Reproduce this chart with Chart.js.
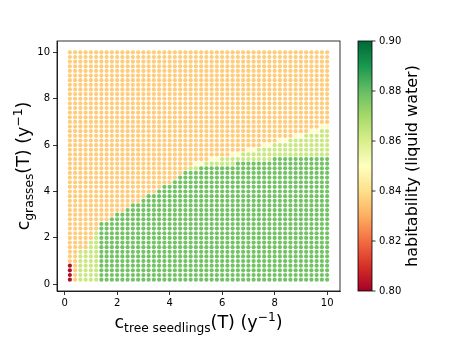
<!DOCTYPE html>
<html><head><meta charset="utf-8">
<script src="https://cdn.jsdelivr.net/npm/chart.js@4.4.1/dist/chart.umd.min.js"></script>
<style>html,body{margin:0;padding:0;background:#fff}#c{display:block}</style>
</head><body><canvas id="c" width="458" height="343"></canvas>
<script>
// grid of simulated parameter values
const xValues = [0.2,0.4,0.6,0.8,1.0,1.2,1.4,1.6,1.8,2.0,2.2,2.4,2.6,2.8,3.0,3.2,3.4,3.6,3.8,4.0,4.2,4.4,4.6,4.8,5.0,5.2,5.4,5.6,5.8,6.0,6.2,6.4,6.6,6.8,7.0,7.2,7.4,7.6,7.8,8.0,8.2,8.4,8.6,8.8,9.0,9.2,9.4,9.6,9.8,10.0];
const yValues = [0.2,0.4,0.6,0.8,1.0,1.2,1.4,1.6,1.8,2.0,2.2,2.4,2.6,2.8,3.0,3.2,3.4,3.6,3.8,4.0,4.2,4.4,4.6,4.8,5.0,5.2,5.4,5.6,5.8,6.0,6.2,6.4,6.6,6.8,7.0,7.2,7.4,7.6,7.8,8.0,8.2,8.4,8.6,8.8,9.0,9.2,9.4,9.6,9.8,10.0];
const xTicks = [0,2,4,6,8,10];
const yTicks = [0,2,4,6,8,10];
const cbarTicks = [0.80,0.82,0.84,0.86,0.88,0.90];
// habitability levels seen in the picture (by dot colour)
const levelRed = 0.803, levelOrange = 0.836, levelPale = 0.849, levelLight = 0.863, levelGreen = 0.878;
// per x column: highest row (1-based from the bottom) of each region
const redTop   = [4,0,0,0,0,0,0,0,0,0,0,0,0,0,0,0,0,0,0,0,0,0,0,0,0,0,0,0,0,0,0,0,0,0,0,0,0,0,0,0,0,0,0,0,0,0,0,0,0,0];
const greenTop = [0,0,0,0,0,0,13,13,14,15,15,16,17,17,18,19,19,20,21,21,22,23,24,24,24,25,25,25,25,25,25,25,26,26,26,26,26,26,26,27,27,27,27,27,27,27,27,27,27,27];
const lightTop = [0,0,7,7,9,11,13,13,14,15,15,16,17,17,18,19,19,20,21,21,22,23,24,25,25,25,26,26,26,27,27,27,27,28,28,28,29,29,29,30,30,30,31,31,31,32,32,32,33,33];
const paleTop  = [0,0,7,7,9,11,13,13,14,15,15,16,17,17,18,19,19,20,21,21,22,23,24,25,26,26,26,27,27,27,27,28,28,28,29,29,29,30,30,30,31,31,31,32,32,32,33,33,34,34];

const RdYlGn = [[165,0,38],[215,48,39],[244,109,67],[253,174,97],[254,224,139],[255,255,191],[217,239,139],[166,217,106],[102,189,99],[26,152,80],[0,104,55]];
const vmin = 0.80, vmax = 0.90;
function cmap(v){
  let t = Math.max(0, Math.min(1, (v - vmin) / (vmax - vmin))) * 10;
  const i = Math.min(9, Math.floor(t)), f = t - i;
  const a = RdYlGn[i], b = RdYlGn[i+1];
  return 'rgb(' + a.map((c,k)=>Math.round(c + (b[k]-c)*f)).join(',') + ')';
}

const points = [], colors = [];
xValues.forEach((x, c) => {
  yValues.forEach((y, r0) => {
    const r = r0 + 1;
    let v;
    if (r <= redTop[c]) v = levelRed;
    else if (r <= greenTop[c]) v = levelGreen;
    else if (r <= lightTop[c]) v = levelLight;
    else if (r <= paleTop[c]) v = levelPale;
    else v = levelOrange;
    points.push({x, y, v});
    colors.push(cmap(v));
  });
});

const FONT = "'DejaVu Sans', sans-serif";

function drawMathLabel(ctx, parts, cx, baseY, rotate){
  const F = 17.5, S = 12.25;
  let total = 0;
  const widths = parts.map(p => { ctx.font = (p[1]==='n'?F:S) + 'px ' + FONT; const w = ctx.measureText(p[0]).width; total += w; return w; });
  ctx.save();
  if (rotate){ ctx.translate(baseY, cx); ctx.rotate(-Math.PI/2); }
  else { ctx.translate(cx, baseY); }
  ctx.fillStyle = '#000';
  ctx.textBaseline = 'alphabetic';
  ctx.textAlign = 'left';
  let x = -total/2;
  parts.forEach((p,i) => {
    ctx.font = (p[1]==='n'?F:S) + 'px ' + FONT;
    const dy = p[1]==='sub' ? 3.8 : (p[1]==='sup' ? -7 : 0);
    ctx.fillText(p[0], x, dy);
    x += widths[i];
  });
  ctx.restore();
}

const decor = {
  id: 'decor',
  afterDraw(chart){
    const ctx = chart.ctx, a = chart.chartArea;
    ctx.save();
    ctx.strokeStyle = '#000'; ctx.lineWidth = 0.8;
    ctx.strokeRect(a.left, a.top, a.right - a.left, a.bottom - a.top);
    const cb = chart.scales.cbar;
    const x0 = 358, x1 = 372;
    const top = cb.getPixelForValue(vmax), bot = cb.getPixelForValue(vmin);
    const g = ctx.createLinearGradient(0, bot, 0, top);
    RdYlGn.forEach((c,i)=> g.addColorStop(i/10, 'rgb(' + c.join(',') + ')'));
    ctx.fillStyle = g;
    ctx.fillRect(x0, top, x1 - x0, bot - top);
    ctx.strokeRect(x0, top, x1 - x0, bot - top);
    ctx.fillStyle = '#000';
    ctx.font = '10px ' + FONT;
    ctx.textBaseline = 'middle'; ctx.textAlign = 'left';
    cbarTicks.forEach(v => {
      const y = cb.getPixelForValue(v);
      ctx.beginPath(); ctx.moveTo(x1, y); ctx.lineTo(x1 + 3.5, y); ctx.stroke();
      ctx.fillText(v.toFixed(2), x1 + 7, y);
    });
    ctx.restore();
    ctx.save();
    ctx.translate(417, (top + bot) / 2);
    ctx.rotate(-Math.PI/2);
    ctx.font = '16px ' + FONT; ctx.fillStyle = '#000';
    ctx.textAlign = 'center'; ctx.textBaseline = 'alphabetic';
    ctx.fillText('habitability (liquid water)', 0, 0);
    ctx.restore();
    drawMathLabel(ctx, [['c','n'],['tree seedlings','sub'],['(T) (y','n'],['\u22121','sup'],[')','n']], (a.left + a.right)/2, 328, false);
    drawMathLabel(ctx, [['c','n'],['grasses','sub'],['(T) (y','n'],['\u22121','sup'],[')','n']], (a.top + a.bottom)/2, 29, true);
  }
};

const tickFont = {family: FONT, size: 10};
new Chart(document.getElementById('c'), {
  type: 'scatter',
  data: { datasets: [{
    data: points,
    backgroundColor: colors,
    borderWidth: 0,
    pointRadius: 2.1,
    pointHoverRadius: 2.1
  }]},
  options: {
    responsive: false, animation: false, devicePixelRatio: 1,
    layout: { padding: {top: 41, right: 118, left: 0, bottom: 0} },
    plugins: { legend: {display: false}, tooltip: {enabled: false} },
    scales: {
      x: {
        type: 'linear', min: -0.29, max: 10.49,
        afterBuildTicks: s => { s.ticks = xTicks.map(v => ({value: v})); },
        afterFit: s => { s.height = 52; },
        ticks: { color: '#000', font: tickFont, padding: 2, maxRotation: 0, callback: v => String(v) },
        grid: { drawOnChartArea: false, drawTicks: true, tickLength: 4, color: '#000', lineWidth: 0.8 },
        border: { display: true, color: '#000', width: 0.8 }
      },
      y: {
        type: 'linear', min: -0.29, max: 10.49,
        afterBuildTicks: s => { s.ticks = yTicks.map(v => ({value: v})); },
        afterFit: s => { s.width = 57; },
        ticks: { color: '#000', font: tickFont, padding: 3, callback: v => String(v) },
        grid: { drawOnChartArea: false, drawTicks: true, tickLength: 4, color: '#000', lineWidth: 0.8 },
        border: { display: true, color: '#000', width: 0.8 }
      },
      cbar: { type: 'linear', display: false, min: vmin, max: vmax, position: 'right' }
    }
  },
  plugins: [decor]
});
</script></body></html>
